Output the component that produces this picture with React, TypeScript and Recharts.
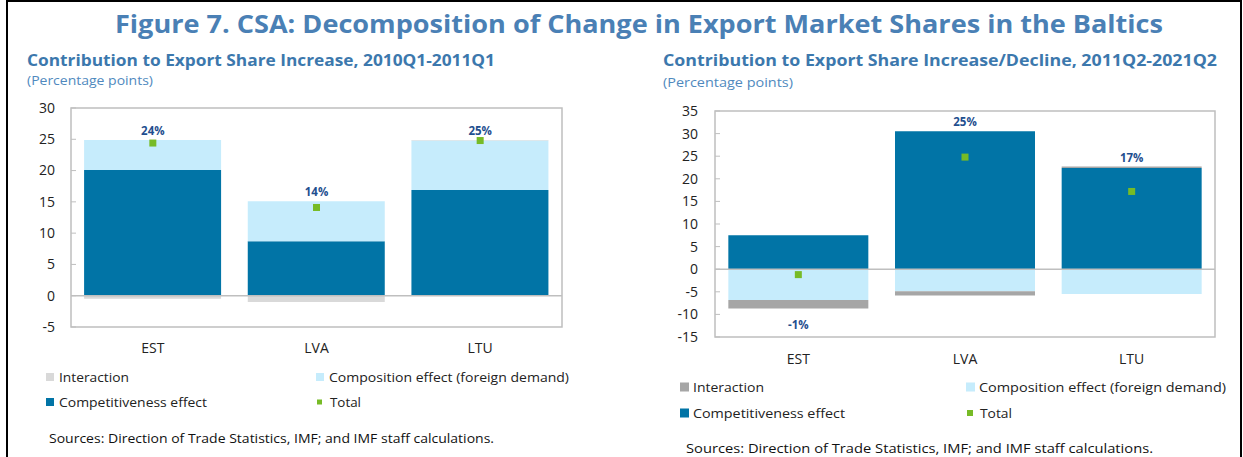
import React from "react";
import {
  Bar,
  ComposedChart,
  ReferenceArea,
  ReferenceLine,
  Scatter,
  XAxis,
  YAxis,
} from "recharts";

const CATEGORIES = ["EST", "LVA", "LTU"];

// 2010Q1-2011Q1
const LEFT_COMPETITIVENESS = [20.1, 8.7, 16.9];
const LEFT_COMPOSITION = [4.8, 6.4, 7.9];
const LEFT_INTERACTION = [-0.5, -1.0, 0.1];
const LEFT_TOTAL = [24.4, 14.1, 24.8];
const LEFT_TICKS = [-5, 0, 5, 10, 15, 20, 25, 30];

// 2011Q2-2021Q2
const RIGHT_COMPETITIVENESS = [7.5, 30.5, 22.4];
const RIGHT_COMPOSITION = [-6.8, -4.9, -5.5];
const RIGHT_INTERACTION = [-1.9, -0.9, 0.3];
const RIGHT_TOTAL = [-1.2, 24.8, 17.2];
const RIGHT_TICKS = [-15, -10, -5, 0, 5, 10, 15, 20, 25, 30, 35];

const BLUE = "#0174a6";
const LIGHT_BLUE = "#c6ecfc";
const GREEN = "#77bb26";
const LABEL_BLUE = "#1f4f8f";
const TITLE_BLUE = "#4a80b5";
const SUB_BLUE = "#5089be";
const GRID = "#bfbfbf";
const FONT = '"Open Sans", "Noto Sans", sans-serif';

function buildRows(comp: number[], compo: number[], inter: number[], total: number[]) {
  return CATEGORIES.map((name, i) => {
    const parts = [comp[i], compo[i], inter[i]];
    const up = parts.filter((v) => v > 0).reduce((a, b) => a + b, 0);
    const down = parts.filter((v) => v < 0).reduce((a, b) => a + b, 0);
    return {
      name,
      competitiveness: comp[i],
      composition: compo[i],
      interaction: inter[i],
      total: total[i],
      anchor: total[i] >= 0 ? up : down,
      label: `${Math.round(total[i])}%`,
    };
  });
}

const leftRows = buildRows(LEFT_COMPETITIVENESS, LEFT_COMPOSITION, LEFT_INTERACTION, LEFT_TOTAL);
const rightRows = buildRows(RIGHT_COMPETITIVENESS, RIGHT_COMPOSITION, RIGHT_INTERACTION, RIGHT_TOTAL);

const TotalMarker = (p: any) => (
  <rect x={p.cx - 3.5} y={p.cy - 3.5} width={7} height={7} fill={GREEN} />
);

const TotalLabel = (p: any) => {
  const above = p.payload.total >= 0;
  return (
    <text
      x={p.cx}
      y={above ? p.cy - 5 : p.cy + 20}
      textAnchor="middle"
      fontSize={11.5}
      fontWeight={700}
      fill={LABEL_BLUE}
      fontFamily={FONT}
    >
      {p.payload.label}
    </text>
  );
};

function makeYTick(gap: number) {
  return (p: any) => (
    <g>
      <text x={p.x} y={p.y} dy="0.35em" textAnchor="end" fontSize={14} fill="#222" fontFamily={FONT}>
        {p.payload.value}
      </text>
      <line x1={p.x + gap} x2={p.x + gap + 5} y1={p.y} y2={p.y} stroke={GRID} />
    </g>
  );
}

interface PanelProps {
  rows: ReturnType<typeof buildRows>;
  ticks: number[];
  width: number;
  height: number;
  margin: { top: number; right: number; bottom: number; left: number };
  yGap: number;
  xGap: number;
  interactionColor: string;
}

function Panel({ rows, ticks, width, height, margin, yGap, xGap, interactionColor }: PanelProps) {
  const lo = ticks[0];
  const hi = ticks[ticks.length - 1];
  return (
    <ComposedChart
      width={width}
      height={height}
      data={rows}
      margin={margin}
      stackOffset="sign"
      barCategoryGap="8%"
    >
      <XAxis
        dataKey="name"
        axisLine={false}
        tickLine={false}
        tickSize={0}
        tickMargin={xGap}
        height={30}
        tick={{ fontSize: 14, fill: "#222", fontFamily: FONT }}
      />
      <YAxis
        type="number"
        domain={[lo, hi]}
        ticks={ticks}
        interval={0}
        width={30}
        axisLine={false}
        tickLine={false}
        tickSize={0}
        tickMargin={yGap}
        tick={makeYTick(yGap)}
      />
      <ReferenceArea y1={lo} y2={hi} fill="none" stroke={GRID} strokeWidth={1.5} />
      <Bar dataKey="competitiveness" stackId="s" fill={BLUE} isAnimationActive={false} />
      <Bar dataKey="composition" stackId="s" fill={LIGHT_BLUE} isAnimationActive={false} />
      <Bar dataKey="interaction" stackId="s" fill={interactionColor} isAnimationActive={false} />
      <ReferenceLine y={0} stroke={GRID} strokeWidth={1.5} />
      <Scatter dataKey="total" shape={TotalMarker} isAnimationActive={false} />
      <Scatter dataKey="anchor" shape={TotalLabel} isAnimationActive={false} />
    </ComposedChart>
  );
}

function LegendItem({ x, y, color, size, text, len }: { x: number; y: number; color: string; size: number; text: string; len: number }) {
  return (
    <g>
      <rect x={x} y={y - size / 2} width={size} height={size} fill={color} />
      <text x={x + 13} y={y + 5} fontSize={13.5} fill="#222" fontFamily={FONT} textLength={len} lengthAdjust="spacingAndGlyphs">
        {text}
      </text>
    </g>
  );
}

export default function App() {
  return (
    <div style={{ position: "absolute", left: 0, top: 0, width: 1243, height: 457, background: "#fff", overflow: "hidden", fontFamily: FONT }}>
      <div style={{ position: "absolute", left: 6, top: 0, width: 1232, height: 470, borderTop: "2px solid #000", borderLeft: "2px solid #000", borderRight: "2px solid #000" }} />
      <div style={{ position: "absolute", left: 0, top: 0 }}>
        <Panel
          rows={leftRows}
          ticks={LEFT_TICKS}
          width={620}
          height={370}
          margin={{ top: 108, right: 58, bottom: 13, left: 41 }}
          yGap={16}
          xGap={16}
          interactionColor="#d9d9d9"
        />
      </div>
      <div style={{ position: "absolute", left: 620, top: 0 }}>
        <Panel
          rows={rightRows}
          ticks={RIGHT_TICKS}
          width={623}
          height={380}
          margin={{ top: 111, right: 28, bottom: 13, left: 65 }}
          yGap={17}
          xGap={17}
          interactionColor="#a6a6a6"
        />
      </div>
      <svg width={1243} height={457} style={{ position: "absolute", left: 0, top: 0, pointerEvents: "none" }}>
        <text x={115} y={33} fontSize={25} fontWeight={700} fill={TITLE_BLUE} fontFamily={FONT} textLength={1048} lengthAdjust="spacingAndGlyphs">
          Figure 7. CSA: Decomposition of Change in Export Market Shares in the Baltics
        </text>
        <text x={27} y={66} fontSize={16} fontWeight={700} fill="#3c78ad" fontFamily={FONT} textLength={468} lengthAdjust="spacingAndGlyphs">
          Contribution to Export Share Increase, 2010Q1-2011Q1
        </text>
        <text x={27} y={85} fontSize={13} fill={SUB_BLUE} fontFamily={FONT} textLength={126} lengthAdjust="spacingAndGlyphs">
          (Percentage points)
        </text>
        <text x={663} y={66} fontSize={16} fontWeight={700} fill="#3c78ad" fontFamily={FONT} textLength={554} lengthAdjust="spacingAndGlyphs">
          Contribution to Export Share Increase/Decline, 2011Q2-2021Q2
        </text>
        <text x={663} y={87} fontSize={13} fill={SUB_BLUE} fontFamily={FONT} textLength={130} lengthAdjust="spacingAndGlyphs">
          (Percentage points)
        </text>

        <LegendItem x={46} y={377} color="#d9d9d9" size={8} text="Interaction" len={70} />
        <LegendItem x={316} y={377} color={LIGHT_BLUE} size={8} text="Composition effect (foreign demand)" len={240} />
        <LegendItem x={46} y={402} color={BLUE} size={8} text="Competitiveness effect" len={148} />
        <LegendItem x={317} y={402} color={GREEN} size={5} text="Total" len={31} />
        <text x={49} y={443} fontSize={13} fill="#111" fontFamily={FONT} textLength={445} lengthAdjust="spacingAndGlyphs">
          Sources: Direction of Trade Statistics, IMF; and IMF staff calculations.
        </text>

        <LegendItem x={680} y={387} color="#a6a6a6" size={9} text="Interaction" len={71} />
        <LegendItem x={966} y={387} color={LIGHT_BLUE} size={9} text="Composition effect (foreign demand)" len={247} />
        <LegendItem x={680} y={413} color={BLUE} size={9} text="Competitiveness effect" len={152} />
        <LegendItem x={967} y={413} color={GREEN} size={6} text="Total" len={32} />
        <text x={686} y={453} fontSize={13} fill="#111" fontFamily={FONT} textLength={467} lengthAdjust="spacingAndGlyphs">
          Sources: Direction of Trade Statistics, IMF; and IMF staff calculations.
        </text>
      </svg>
    </div>
  );
}
